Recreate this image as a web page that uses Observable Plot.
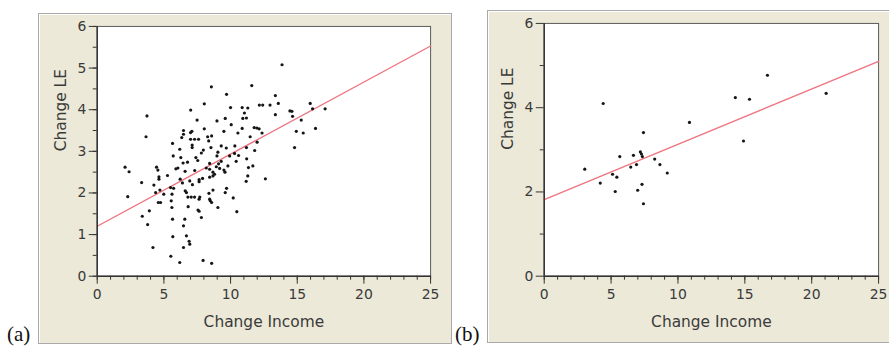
<!DOCTYPE html>
<html>
<head>
<meta charset="utf-8">
<script src="https://cdn.jsdelivr.net/npm/d3@7"></script>
<script src="https://cdn.jsdelivr.net/npm/@observablehq/plot@0.6"></script>
<style>
  html, body { margin: 0; padding: 0; background: #ffffff; width: 889px; height: 347px; overflow: hidden; }
  .panel { position: absolute; background: #ece9d8; box-sizing: border-box; border: 1px solid #a9a9a9; box-shadow: inset 1px 1px 0 #ffffff; }
  .panel svg { position: absolute; left: -1px; top: -1px; background: transparent; }
  .tag { position: absolute; font-family: "Liberation Serif", "DejaVu Serif", serif; font-size: 21px; color: #111; line-height: 1; }
</style>
</head>
<body>
<div id="pa" class="panel" style="left:38px; top:13px; width:414px; height:331px;"></div>
<div id="pb" class="panel" style="left:487px; top:10px; width:410px; height:333px;"></div>
<div class="tag" style="left:7px; top:324px;">(a)</div>
<div class="tag" style="left:455px; top:324px;">(b)</div>
<script>
// ---- Panel (a) data: Change Income vs Change LE ----
const incomeA = [13.86,11.59,8.56,9.70,13.36,8.03,13.58,12.16,12.41,12.96,15.97,17.09,16.15,7.01,10.0,10.87,11.29,11.04,3.73,13.36,14.45,14.6,14.65,15.30,7.49,8.98,9.60,10.92,11.19,10.05,8.03,6.47,6.47,7.0,7.1,10.87,11.77,11.97,12.14,12.36,10.55,16.37,14.93,15.45,3.66,6.34,7.0,7.3,7.6,8.28,8.36,8.58,9.50,11.47,11.99,5.65,7.12,7.12,7.81,7.96,8.53,9.30,9.68,10.32,11.19,11.81,14.80,6.19,9.05,8.98,10.30,9.93,5.70,6.27,7.54,6.77,6.44,8.43,10.42,11.21,9.30,2.09,2.39,4.45,4.55,4.63,4.63,5.27,5.90,6.59,7.31,8.18,8.43,8.93,9.18,9.50,8.68,9.58,11.34,11.67,11.29,11.17,12.61,3.33,4.25,5.50,6.22,6.39,6.94,7.14,7.64,7.64,8.43,8.68,4.70,4.38,4.99,5.61,6.69,5.73,8.38,8.68,9.70,9.60,2.29,6.8,7.05,7.3,7.69,7.64,8.43,8.48,8.58,10.2,4.58,4.75,5.55,9.05,5.60,6.82,7.56,7.64,10.47,3.91,3.38,7.81,5.65,6.57,3.78,6.47,5.67,6.69,6.89,6.94,4.18,6.47,5.52,6.19,7.94,8.58,9.10,8.80,6.05,7.40,9.80,10.6,6.60,7.90];
const leA = [5.08,4.58,4.55,4.37,4.34,4.14,4.15,4.11,4.11,4.11,4.15,4.02,4.02,3.99,4.05,4.05,4.04,3.92,3.85,3.88,3.97,3.96,3.84,3.75,3.75,3.73,3.79,3.79,3.80,3.64,3.54,3.50,3.41,3.45,3.48,3.55,3.57,3.56,3.54,3.44,3.44,3.55,3.48,3.44,3.35,3.33,3.29,3.29,3.29,3.35,3.25,3.37,3.48,3.35,3.22,3.19,3.15,3.09,2.96,3.03,3.09,3.13,3.08,3.13,3.09,3.02,3.09,3.05,2.98,2.89,2.95,2.89,2.89,2.85,2.78,2.74,2.72,2.71,2.76,2.82,2.76,2.62,2.51,2.62,2.55,2.39,2.33,2.42,2.58,2.52,2.54,2.60,2.57,2.63,2.59,2.55,2.50,2.50,2.61,2.65,2.41,2.28,2.34,2.25,2.19,2.13,2.33,2.24,2.29,2.20,2.32,2.27,2.38,2.41,2.07,2.01,1.97,1.97,2.01,2.11,1.99,2.07,2.11,2.01,1.91,1.90,1.90,1.90,1.90,1.85,1.85,1.81,1.77,1.88,1.77,1.77,1.81,1.65,1.65,1.67,1.59,1.56,1.55,1.57,1.44,1.41,1.37,1.37,1.24,1.21,0.95,0.97,0.84,0.77,0.69,0.69,0.48,0.33,0.38,0.31,2.70,2.45,2.60,2.85,2.65,2.90,2.05,2.35];
// fitted line endpoints (a)
const fitAx = [0, 25];
const fitAy = [1.20, 5.53];

// ---- Panel (b) data ----
const incomeB = [16.69,21.08,14.29,15.35,4.41,10.86,14.90,7.42,7.19,7.27,7.34,6.67,5.65,8.26,3.03,6.90,8.65,6.47,9.20,5.11,5.43,4.19,7.31,6.99,5.31,7.42];
const leB = [4.77,4.34,4.24,4.20,4.10,3.65,3.21,3.41,2.95,2.90,2.84,2.87,2.84,2.78,2.54,2.65,2.65,2.59,2.45,2.42,2.35,2.21,2.18,2.04,2.01,1.72];
const fitBx = [0, 25];
const fitBy = [1.82, 5.10];

// tick definitions
const xMajor = [0, 5, 10, 15, 20, 25];
const xMinor = d3.range(0, 26, 1);
const yMajorA = [0, 1, 2, 3, 4, 5, 6];
const yMinorA = d3.range(0, 6.01, 0.5);
const yMajorB = [0, 2, 4, 6];
const yMinorB = [1, 3, 5];

const FONT = "DejaVu Sans, Verdana, sans-serif";
const TXT = "#3a3a3a";

function panel({xs, ys, fx, fy, width, height, mt, mb, ml, mr, yMajor, yMinor}) {
  const fit = fx.map((x, i) => ({x, y: fy[i]}));
  const pts = xs.map((x, i) => ({x, y: ys[i]}));
  const fmt = d => String(d);
  return Plot.plot({
    width, height,
    marginTop: mt, marginBottom: mb, marginLeft: ml, marginRight: mr,
    style: {background: "transparent", fontFamily: FONT, fontSize: "14px", color: TXT, overflow: "visible"},
    x: {domain: [0, 25]},
    y: {domain: [0, 6]},
    marks: [
      Plot.frame({fill: "white", stroke: "#5a5a5a", strokeWidth: 1}),
      Plot.line(fit, {x: "x", y: "y", stroke: "#ee7580", strokeWidth: 1.4}),
      Plot.dot(pts, {x: "x", y: "y", r: 1.6, fill: "#151515", stroke: "none"}),
      Plot.axisX({ticks: xMinor, tickSize: 4, tickFormat: () => "", stroke: "#333", label: null}),
      Plot.axisX({ticks: xMajor, tickSize: 8, tickPadding: 5, tickFormat: fmt, stroke: "#333", fill: TXT, label: null, fontSize: 14}),
      Plot.axisY({ticks: yMinor, tickSize: 4, tickFormat: () => "", stroke: "#333", label: null}),
      Plot.axisY({ticks: yMajor, tickSize: 8, tickPadding: 3, tickFormat: fmt, stroke: "#333", fill: TXT, label: null, fontSize: 14}),
      Plot.ruleX([0], {stroke: "#333", strokeWidth: 1.5}),
      Plot.ruleY([0], {stroke: "#333", strokeWidth: 1.5}),
      Plot.text(["Change Income"], {frameAnchor: "bottom", dy: 46, lineAnchor: "middle", fontSize: 15.5, fill: TXT}),
      Plot.text(["Change LE"], {frameAnchor: "left", dx: -36, rotate: -90, fontSize: 15.5, fill: TXT})
    ]
  });
}

document.getElementById("pa").append(panel({
  xs: incomeA, ys: leA, fx: fitAx, fy: fitAy,
  width: 414, height: 331, mt: 13, mb: 67, ml: 59, mr: 20,
  yMajor: yMajorA, yMinor: yMinorA
}));
document.getElementById("pb").append(panel({
  xs: incomeB, ys: leB, fx: fitBx, fy: fitBy,
  width: 410, height: 333, mt: 13, mb: 66, ml: 57, mr: 17,
  yMajor: yMajorB, yMinor: yMinorB
}));
</script>
</body>
</html>
